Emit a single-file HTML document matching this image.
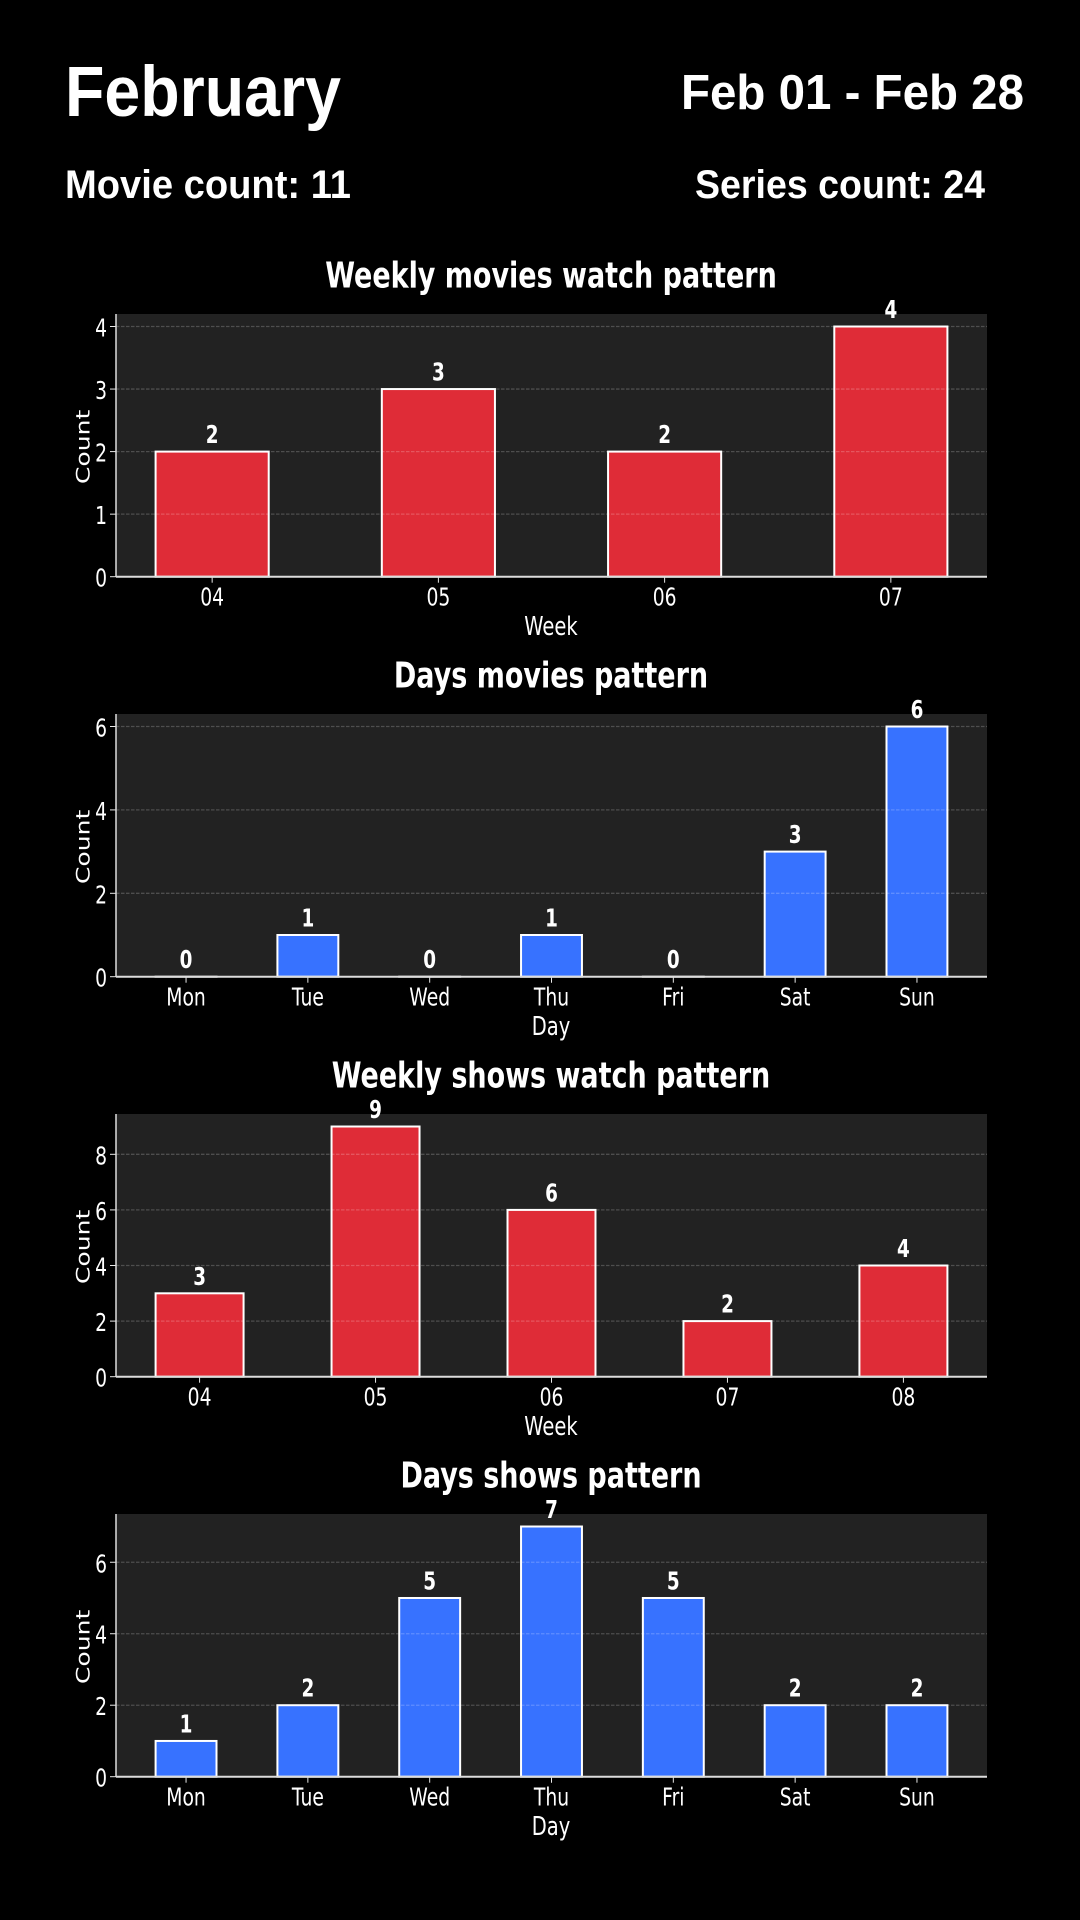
<!DOCTYPE html>
<html lang="en">
<head>
<meta charset="utf-8">
<title>February watch patterns</title>
<style>
html,body{margin:0;padding:0;background:#000;width:1080px;height:1920px;overflow:hidden}
svg{display:block}
.head{font-family:"Liberation Sans",sans-serif;font-weight:700;fill:#fff}
.dv{font-family:"DejaVu Sans",sans-serif;fill:#fff}
</style>
</head>
<body>
<svg id="stage" width="1080" height="1920" viewBox="0 0 1080 1920" xmlns="http://www.w3.org/2000/svg">
  <rect x="0" y="0" width="1080" height="1920" fill="#000"/>
  <text class="head" x="65" y="116" font-size="71" textLength="276" lengthAdjust="spacingAndGlyphs">February</text>
  <text class="head" x="681" y="109" font-size="49" textLength="343" lengthAdjust="spacingAndGlyphs">Feb 01 - Feb 28</text>
  <text class="head" x="65" y="198" font-size="40" textLength="286" lengthAdjust="spacingAndGlyphs">Movie count: 11</text>
  <text class="head" x="695" y="198" font-size="40" textLength="290" lengthAdjust="spacingAndGlyphs">Series count: 24</text>
</svg>
<script>
const weeklyMoviesCategories = ['04', '05', '06', '07'];
const weeklyMoviesValues = [2, 3, 2, 4];
const weeklyMoviesTicks = [0, 1, 2, 3, 4];

const dayMoviesCategories = ['Mon', 'Tue', 'Wed', 'Thu', 'Fri', 'Sat', 'Sun'];
const dayMoviesValues = [0, 1, 0, 1, 0, 3, 6];
const dayMoviesTicks = [0, 2, 4, 6];

const weeklyShowsCategories = ['04', '05', '06', '07', '08'];
const weeklyShowsValues = [3, 9, 6, 2, 4];
const weeklyShowsTicks = [0, 2, 4, 6, 8];

const dayShowsCategories = ['Mon', 'Tue', 'Wed', 'Thu', 'Fri', 'Sat', 'Sun'];
const dayShowsValues = [1, 2, 5, 7, 5, 2, 2];
const dayShowsTicks = [0, 2, 4, 6];

const NS = 'http://www.w3.org/2000/svg';
const stage = document.getElementById('stage');
const SX = 0.75;

function mk(parent, tag, attrs) {
  const el = document.createElementNS(NS, tag);
  for (const k in attrs) el.setAttribute(k, attrs[k]);
  parent.appendChild(el);
  return el;
}

function label(parent, str, x, y, size, weight, anchor, rotated) {
  const t = rotated ? ' rotate(-90)' : '';
  const el = mk(parent, 'text', {
    class: 'dv',
    transform: 'translate(' + x + ' ' + y + ') scale(' + SX + ' 1)' + t,
    'font-size': size,
    'font-weight': weight,
    'text-anchor': anchor
  });
  el.textContent = str;
  return el;
}

function drawChart(top, title, xTitle, color, categories, values, ticks) {
  const L = 116, R = 987, H = 262.7, bottom = top + H;
  const n = categories.length;
  const extent = n - 0.5;
  const step = (R - L) / (extent * 1.1);
  const xScale = function (i) { return L + (i + 0.25 + extent * 0.05) * step; };
  const yMax = Math.max.apply(null, values) * 1.05;
  const yScale = function (v) { return bottom - (v / yMax) * H; };
  const barW = 0.5 * step;

  const g = mk(stage, 'g', {});
  
  

  const titleEl = label(g, title, (L + R) / 2 - 0.5, bottom - 289, 36, 700, 'middle', false);
  
  

  const plot = mk(g, 'rect', { x: L, y: top, width: R - L, height: H, fill: '#222222' });
  
  

  categories.forEach(function (c, i) {
    const bar = mk(g, 'rect', {
      x: xScale(i) - barW / 2,
      y: yScale(values[i]),
      width: barW,
      height: Math.max(bottom - yScale(values[i]), 0.01),
      fill: color,
      stroke: '#ffffff',
      'stroke-width': 2
    });
    
    
  });

  ticks.forEach(function (v) {
    const y = yScale(v);
    if (v !== 0) {
      const grid = mk(g, 'line', {
        x1: L, x2: R, y1: y, y2: y,
        stroke: '#ffffff',
        'stroke-opacity': 0.2,
        'stroke-width': 1.3,
        'stroke-dasharray': '3.5 1.5'
      });
      
      
    }
    const tick = mk(g, 'line', { x1: L - 6, x2: L, y1: y, y2: y, stroke: '#e8e8e8', 'stroke-width': 1 });
    
    
    const tl = label(g, String(v), 107, y + 10, 25, 400, 'end', false);
    
    
  });

  categories.forEach(function (c, i) {
    const x = xScale(i);
    const tick = mk(g, 'line', { x1: x, x2: x, y1: bottom, y2: bottom + 6, stroke: '#e8e8e8', 'stroke-width': 1 });
    
    
    const tl = label(g, c, x, bottom + 29, 25, 400, 'middle', false);
    
    
    const vl = label(g, String(values[i]), x, yScale(values[i]) - 8.5, 24.5, 700, 'middle', false);
    
    
  });

  const left = mk(g, 'line', { x1: L, x2: L, y1: top, y2: bottom, stroke: '#dddddd', 'stroke-width': 1.5 });
  
  
  const base = mk(g, 'line', { x1: L, x2: R, y1: bottom, y2: bottom, stroke: '#dddddd', 'stroke-width': 2 });
  
  

  const xt = label(g, xTitle, (L + R) / 2 - 0.5, bottom + 58.5, 26, 400, 'middle', false);
  
  
  const yt = label(g, 'Count', 89.5, (top + bottom) / 2 + 1.5, 25, 400, 'middle', true);
  
  
}

drawChart(314, 'Weekly movies watch pattern', 'Week', '#df2c37', weeklyMoviesCategories, weeklyMoviesValues, weeklyMoviesTicks);
drawChart(714, 'Days movies pattern', 'Day', '#3772ff', dayMoviesCategories, dayMoviesValues, dayMoviesTicks);
drawChart(1114, 'Weekly shows watch pattern', 'Week', '#df2c37', weeklyShowsCategories, weeklyShowsValues, weeklyShowsTicks);
drawChart(1514, 'Days shows pattern', 'Day', '#3772ff', dayShowsCategories, dayShowsValues, dayShowsTicks);
</script>
</body>
</html>
